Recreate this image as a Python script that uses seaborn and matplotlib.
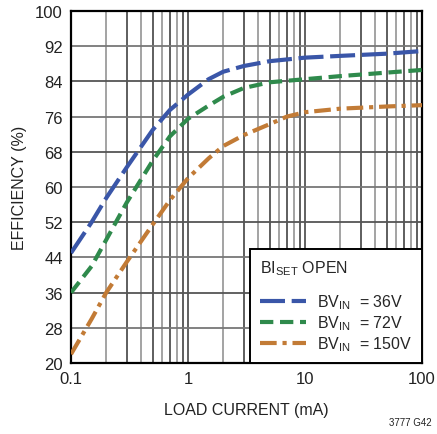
import numpy as np
import pandas as pd
import seaborn as sns
import matplotlib
matplotlib.use("Agg")
from matplotlib import pyplot as plt
from matplotlib.ticker import FixedLocator, FixedFormatter, NullFormatter

# load current (mA) and efficiency (%)
load_36 = [0.1, 0.15, 0.2, 0.3, 0.5, 0.7, 1, 1.5, 2, 3, 5, 10, 20, 50, 100]
eff_36 = [45, 52, 57.5, 64.5, 73, 77.5, 81, 84.5, 86.2, 87.5, 88.6, 89.4, 89.8, 90.3, 90.9]

load_72 = [0.1, 0.15, 0.2, 0.3, 0.5, 0.7, 1, 1.5, 2, 3, 5, 10, 20, 50, 100]
eff_72 = [36, 42, 48, 56.5, 66, 71.5, 75.5, 78.5, 80.5, 82.5, 83.8, 84.5, 85.2, 86, 86.6]

load_150 = [0.1, 0.15, 0.2, 0.3, 0.5, 0.7, 1, 1.5, 2, 3, 5, 7, 10, 20, 50, 100]
eff_150 = [22, 30, 36, 43, 51.5, 57, 62, 66.5, 69.3, 71.8, 74.3, 76, 77, 77.8, 78.3, 78.6]

series_labels = ["BV$_{IN}$  = 36V", "BV$_{IN}$  = 72V", "BV$_{IN}$  = 150V"]
x_ticks = [0.1, 1, 10, 100]
x_tick_labels = ["0.1", "1", "10", "100"]
y_ticks = [20, 28, 36, 44, 52, 60, 68, 76, 84, 92, 100]

sns.set_style("white")
plt.rcParams['font.family'] = ['Liberation Sans Narrow', 'Liberation Sans', 'DejaVu Sans']
plt.rcParams['mathtext.default'] = 'regular'

df = pd.concat([
    pd.DataFrame({"load": load_36, "eff": eff_36, "vin": series_labels[0]}),
    pd.DataFrame({"load": load_72, "eff": eff_72, "vin": series_labels[1]}),
    pd.DataFrame({"load": load_150, "eff": eff_150, "vin": series_labels[2]}),
])

fig = plt.figure(figsize=(4.37, 4.35), dpi=100)
ax = fig.add_axes([71 / 437, 71 / 435, 351 / 437, 352 / 435])

colors = ["#3a56a8", "#2f8a4c", "#c27b36"]
dashes = [(6, 1.6), (3.2, 1.6), (4, 1.4, 1, 1.4)]
sns.lineplot(data=df, x="load", y="eff", hue="vin", style="vin",
             palette=colors, dashes=dashes, linewidth=3.0, ax=ax, zorder=3)

ax.set_xscale("log")
ax.set_xlim(0.1, 100)
ax.set_ylim(20, 100)

# grid lines
minor = [m * d for d in [0.1, 1, 10] for m in range(2, 10)]
for i, xv in enumerate(minor):
    ax.axvline(xv, color="#333333" if i % 2 else "#8a8a8a", lw=1.1, zorder=1)
for xv in x_ticks[1:-1]:
    ax.axvline(xv, color="#555555", lw=1.3, zorder=1)
for i, yv in enumerate(y_ticks[1:-1]):
    ax.axhline(yv, color="#555555" if i % 2 else "#777777", lw=1.3, zorder=1)

ax.xaxis.set_major_locator(FixedLocator(x_ticks))
ax.xaxis.set_major_formatter(FixedFormatter(x_tick_labels))
ax.xaxis.set_minor_formatter(NullFormatter())
ax.set_yticks(y_ticks)
ax.tick_params(axis="both", which="both", length=0, labelsize=12, pad=6, colors="#222222")

for s in ax.spines.values():
    s.set_color("black")
    s.set_linewidth(1.6)

ax.set_xlabel("LOAD CURRENT (mA)", fontsize=11.5, labelpad=11, color="#222222")
ax.set_ylabel("EFFICIENCY (%)", fontsize=11.5, labelpad=6, color="#222222")

handles, labels = ax.get_legend_handles_labels()
leg = ax.legend(handles, labels, loc="lower right", title="BI$_{SET}$ OPEN",
                fontsize=11.5, title_fontsize=11.5, frameon=True, fancybox=False,
                borderaxespad=0, handlelength=2.9, borderpad=0.6,
                labelspacing=0.15, handletextpad=0.7, alignment="left")
leg._legend_box.sep = 11
leg.get_frame().set_edgecolor("black")
leg.get_frame().set_linewidth(1.4)
leg.get_frame().set_alpha(1)
leg.set_zorder(5)

fig.text(410 / 437, 1 - 423 / 435, "3777 G42", fontsize=7, ha="center", va="center", color="#222222")

fig.savefig("out.png", dpi=100)
